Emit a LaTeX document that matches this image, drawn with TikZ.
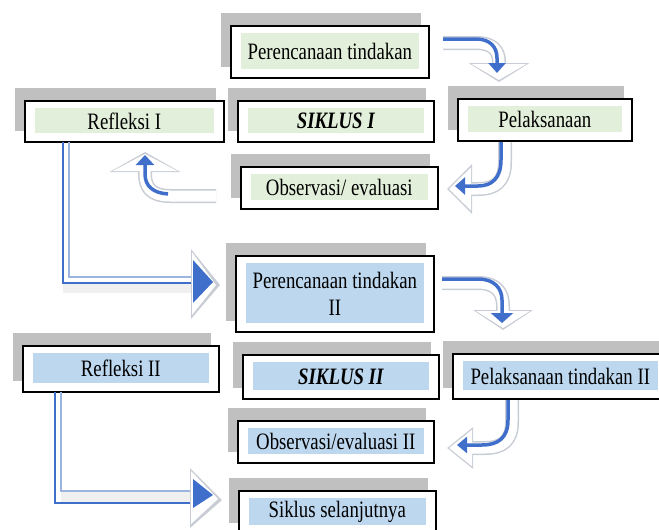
\documentclass[tikz,border=0pt]{standalone}
\usepackage{fontspec}
\setmainfont{Liberation Serif}[FakeStretch=0.8]
\usetikzlibrary{arrows.meta,backgrounds,calc}
\definecolor{greenfill}{HTML}{E2EFDA}
\definecolor{bluefill}{HTML}{BDD7EE}
\definecolor{shadowgray}{HTML}{C0C0C0}
\definecolor{arrowblue}{HTML}{3F6FCB}
\definecolor{lightblue}{HTML}{9BB4E0}
\definecolor{paleedge}{HTML}{C8CCD4}
\begin{document}
\begin{tikzpicture}[x=1pt,y=-1pt,
  box/.style={draw=black, line width=1.6pt, fill=white, inner sep=0pt, anchor=north west, align=center,
    font=\fontsize{23.5}{27}\selectfont,
    path picture={\fill[#1] ([xshift=10.5pt,yshift=-7.5pt]path picture bounding box.north west) rectangle ([xshift=-10pt,yshift=8.5pt]path picture bounding box.south east);}},
  pale/.style={line width=14pt, draw=paleedge, line join=round},
  paleinner/.style={line width=11pt, draw=white, line join=round},
  core/.style={line width=3.5pt, draw=arrowblue},
  bandline/.style={line width=1.6pt, draw=arrowblue},
  bandlight/.style={line width=1.4pt, draw=lightblue},
]
\useasboundingbox (0,0) rectangle (659,530);
\clip (0,0) rectangle (659,530);

% boxes
\node[box=greenfill, minimum width=198pt, minimum height=52pt] (plan1) at (230,25) {Perencanaan tindakan};
\node[box=greenfill, minimum width=199pt, minimum height=41pt] (refl1) at (24,100) {Refleksi I};
\node[box=greenfill, minimum width=196pt, minimum height=41pt] (sik1) at (237,100) {\bfseries\itshape SIKLUS I};
\node[box=greenfill, minimum width=174pt, minimum height=42pt] (pel1) at (457,98) {Pelaksanaan};
\node[box=greenfill, minimum width=197pt, minimum height=42pt] (obs1) at (240,166) {Observasi/ evaluasi};
\node[box=bluefill, minimum width=198pt, minimum height=76pt] (plan2) at (235,255) {Perencanaan tindakan\\II};
\node[box=bluefill, minimum width=196pt, minimum height=46pt] (refl2) at (22,345) {Refleksi II};
\node[box=bluefill, minimum width=196pt, minimum height=44pt] (sik2) at (242,354) {\bfseries\itshape SIKLUS II};
\node[box=bluefill, minimum width=215pt, minimum height=45pt] (pel2) at (452,353) {Pelaksanaan tindakan II};
\node[box=bluefill, minimum width=196pt, minimum height=42pt] (obs2) at (237,420) {Observasi/evaluasi II};
\node[box=bluefill, minimum width=197pt, minimum height=43pt] (nextc) at (238,490) {Siklus selanjutnya};

\begin{scope}[on background layer]
\foreach \n in {plan1,refl1,sik1,pel1,obs1,plan2,refl2,sik2,pel2,obs2,nextc}
  \fill[shadowgray] ([xshift=-9pt,yshift=12pt]\n.north west) rectangle ([xshift=-9pt,yshift=12pt]\n.south east);
\end{scope}

% arrow A: plan1 -> pel1
\draw[pale, -{Triangle[length=19pt,width=60pt,fill=paleedge]}] (443,43) -- (476,43) .. controls (492,43) and (499,50) .. (499,62) -- (499,82);
\draw[paleinner, -{Triangle[length=16pt,width=54pt,fill=white]}, shorten >=2pt] (443,43) -- (476,43) .. controls (492,43) and (499,50) .. (499,62) -- (499,82);
\draw[core, -{Triangle[length=10pt,width=17pt]}] (443,39) -- (476,39) .. controls (490,39) and (497,47) .. (497,58) -- (497,73);

% arrow B: pel1 -> obs1
\draw[pale, -{Triangle[length=25pt,width=48pt,fill=paleedge]}] (505,142) -- (505,162) .. controls (505,182) and (495,189) .. (478,189) -- (447,189);
\draw[paleinner, -{Triangle[length=22pt,width=42pt,fill=white]}, shorten >=2pt] (505,142) -- (505,162) .. controls (505,182) and (495,189) .. (478,189) -- (447,189);
\draw[core, -{Triangle[length=10pt,width=17pt]}] (501,142) -- (501,160) .. controls (501,178) and (492,186) .. (478,186) -- (455,186);

% arrow C: obs1 -> refl1 (up)
\draw[pale, -{Triangle[length=20pt,width=70pt,fill=paleedge]}] (216,196) -- (170,196) .. controls (153,196) and (145,189) .. (145,174) -- (145,152);
\draw[paleinner, -{Triangle[length=17pt,width=64pt,fill=white]}, shorten >=2pt] (216,196) -- (170,196) .. controls (153,196) and (145,189) .. (145,174) -- (145,152);
\draw[core, -{Triangle[length=10pt,width=18pt]}] (168,194) .. controls (153,193) and (145,186) .. (145,174) -- (145,155);

% arrow D: refl1 -> plan2
\fill[gray!12] (63,284) rectangle (193,293);
\draw[bandlight] (69,142) -- (69,277) -- (193,277);
\draw[bandline] (63,142) -- (63,283) -- (193,283);
\fill[paleedge] (191,249) -- (220,285) -- (191,319) -- cycle;
\fill[white] (192,252) -- (216,285) -- (192,315) -- cycle;
\fill[arrowblue] (193,260) -- (213,282) -- (193,303) -- cycle;

% arrow E: plan2 -> pel2
\draw[pale, -{Triangle[length=20pt,width=59pt,fill=paleedge]}] (442,283) -- (478,283) .. controls (496,283) and (503,292) .. (503,306) -- (503,330);
\draw[paleinner, -{Triangle[length=17pt,width=53pt,fill=white]}, shorten >=2pt] (442,283) -- (478,283) .. controls (496,283) and (503,292) .. (503,306) -- (503,330);
\draw[core, -{Triangle[length=10pt,width=22pt]}] (442,279) -- (478,279) .. controls (494,279) and (502,288) .. (502,300) -- (502,323);

% arrow F: pel2 -> obs2
\draw[pale, -{Triangle[length=26pt,width=40pt,fill=paleedge]}] (512,400) -- (512,422) .. controls (512,441) and (502,448) .. (485,448) -- (447,448);
\draw[paleinner, -{Triangle[length=23pt,width=35pt,fill=white]}, shorten >=2pt] (512,400) -- (512,422) .. controls (512,441) and (502,448) .. (485,448) -- (447,448);
\draw[core, -{Triangle[length=10pt,width=16pt]}] (508,400) -- (508,420) .. controls (508,438) and (498,445) .. (482,445) -- (457,445);

% arrow G: refl2 -> nextc
\fill[gray!12] (61,492) rectangle (193,502);
\draw[bandlight] (61,392) -- (61,491) -- (193,491);
\draw[bandline] (55,392) -- (55,503) -- (193,503);
\fill[paleedge] (190,468) -- (222,500) -- (190,528) -- cycle;
\fill[white] (191,471) -- (218,499) -- (191,524) -- cycle;
\fill[arrowblue] (193,479) -- (213,495) -- (193,508) -- cycle;
\end{tikzpicture}
\end{document}
